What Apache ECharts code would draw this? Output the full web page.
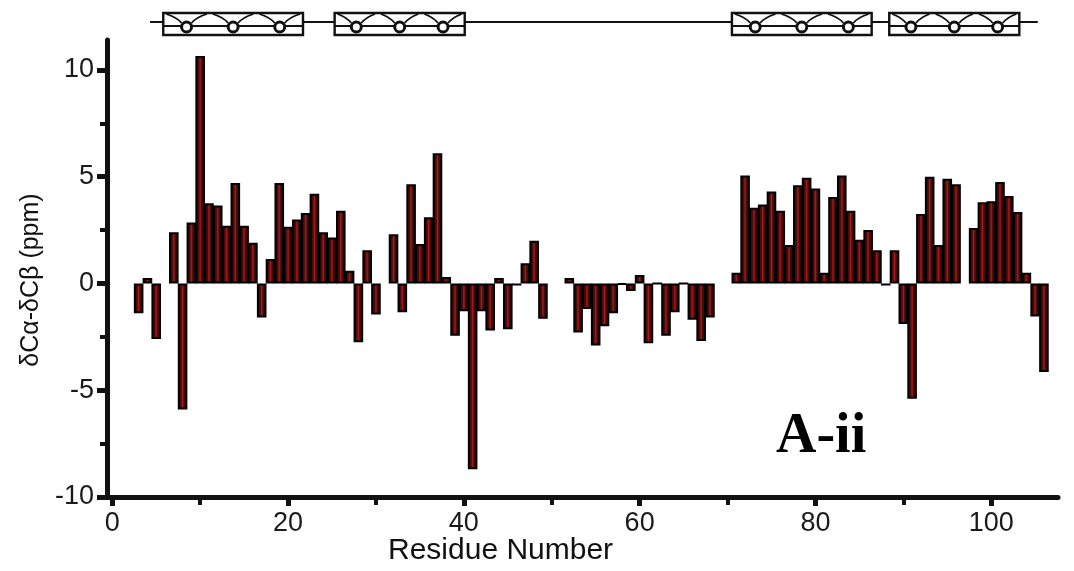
<!DOCTYPE html>
<html>
<head>
<meta charset="utf-8">
<script src="https://cdn.jsdelivr.net/npm/echarts@6/dist/echarts.min.js"></script>
<style>
  html, body { margin: 0; padding: 0; background: #ffffff; }
  #chart { width: 1074px; height: 571px; }
</style>
</head>
<body>
<div id="chart"></div>
<script>
// Secondary chemical shift (δCα − δCβ) per residue; null = no assignment
const residues = [
  3, 4, 5, 6, 7, 8, 9, 10, 11, 12, 13, 14, 15, 16, 17, 18, 19, 20,
  21, 22, 23, 24, 25, 26, 27, 28, 29, 30, 31, 32, 33, 34, 35, 36, 37, 38, 39, 40,
  41, 42, 43, 44, 45, 46, 47, 48, 49, 50, 51, 52, 53, 54, 55, 56, 57, 58, 59, 60,
  61, 62, 63, 64, 65, 66, 67, 68, 69, 70, 71, 72, 73, 74, 75, 76, 77, 78, 79, 80,
  81, 82, 83, 84, 85, 86, 87, 88, 89, 90, 91, 92, 93, 94, 95, 96, 97, 98, 99, 100,
  101, 102, 103, 104, 105, 106
];
const shifts = [
  -1.4, 0.25, -2.6, null, 2.4, -5.9, 2.85, 10.65, 3.75, 3.65, 2.7, 4.7, 2.7, 1.9, -1.6, 1.15, 4.7, 2.65,
  3.0, 3.3, 4.2, 2.4, 2.15, 3.4, 0.6, -2.75, 1.55, -1.45, null, 2.3, -1.35, 4.65, 1.85, 3.1, 6.1, 0.3, -2.45, -1.3,
  -8.7, -1.3, -2.2, 0.25, -2.15, -0.1, 0.95, 2.0, -1.65, null, null, 0.25, -2.3, -1.2, -2.9, -2.0, -1.4, -0.05, -0.35, 0.4,
  -2.8, 0, -2.45, -1.35, 0, -1.7, -2.7, -1.6, null, null, 0.5, 5.05, 3.55, 3.7, 4.3, 3.4, 1.8, 4.6, 4.95, 4.45,
  0.5, 4.05, 5.05, 3.4, 2.05, 2.5, 1.55, -0.1, 1.55, -1.9, -5.4, 3.25, 5.0, 1.8, 4.9, 4.65, null, 2.6, 3.8, 3.85,
  4.75, 4.1, 3.35, 0.5, -1.55, -4.15
];

// Axis ticks and labels
const xMajorTicks = [0, 20, 40, 60, 80, 100];
const xMinorTicks = [10, 30, 50, 70, 90];
const yMajorTicks = [-10, -5, 0, 5, 10];
const yMinorTicks = [-7.5, -2.5, 2.5, 7.5];

// Helical segments (residue ranges) and extent of the structure track
const helices = [[5.8, 21.7], [25.3, 40.1], [70.5, 86.4], [88.4, 103.2]];
const structureSpan = [4.3, 105.3];

const xTitle = 'Residue Number';
const yTitle = 'δCα-δCβ (ppm)';
const panelTag = 'A-ii';

const INK = '#111111';
const SANS = '"Liberation Sans", Arial, sans-serif';

const chart = echarts.init(document.getElementById('chart'), null, { renderer: 'canvas' });

const barData = [];
residues.forEach((r, i) => {
  if (shifts[i] !== null) barData.push([r, shifts[i]]);
});

const X_MIN = -0.6, X_MAX = 107.6, Y_MIN = -10, Y_MAX = 11.4;

function xAxisBase() {
  return {
    type: 'value', min: X_MIN, max: X_MAX, position: 'bottom', offset: 0,
    splitLine: { show: false }
  };
}
function yAxisBase() {
  return {
    type: 'value', min: Y_MIN, max: Y_MAX, position: 'left', offset: 0,
    splitLine: { show: false }
  };
}

const textEls = [
  {
    type: 'text', left: 388, top: 536, z: 20,
    style: { text: xTitle, font: '30px ' + SANS, fill: INK }
  },
  {
    type: 'text', x: 31, y: 280, rotation: Math.PI / 2, z: 20,
    style: { text: yTitle, font: '25px ' + SANS, fill: INK, align: 'center', verticalAlign: 'middle' }
  },
  {
    type: 'text', left: 776, top: 410, z: 20,
    style: { text: panelTag, font: 'bold 56px "Liberation Serif", "Times New Roman", serif', fill: '#000' }
  }
];

chart.setOption({
  animation: false,
  backgroundColor: '#ffffff',
  grid: { left: 107, right: 16, top: 40, bottom: 74, containLabel: false },
  xAxis: [
    Object.assign(xAxisBase(), {
      axisLine: { show: true, onZero: false, lineStyle: { color: INK, width: 5 } },
      axisTick: { show: true, inside: false, length: 9, customValues: xMajorTicks, lineStyle: { color: INK, width: 5 } },
      axisLabel: { show: true, margin: 13, customValues: xMajorTicks, fontFamily: SANS, fontSize: 27, color: '#1a1a1a' }
    }),
    Object.assign(xAxisBase(), {
      axisLine: { show: false, onZero: false },
      axisTick: { show: true, inside: false, length: 8, customValues: xMinorTicks, lineStyle: { color: INK, width: 4 } },
      axisLabel: { show: false }
    })
  ],
  yAxis: [
    Object.assign(yAxisBase(), {
      axisLine: { show: true, onZero: false, lineStyle: { color: INK, width: 5 } },
      axisTick: { show: true, inside: false, length: 10, customValues: yMajorTicks, lineStyle: { color: INK, width: 5 } },
      axisLabel: { show: true, margin: 13, customValues: yMajorTicks, fontFamily: SANS, fontSize: 27, color: '#1a1a1a' }
    }),
    Object.assign(yAxisBase(), {
      axisLine: { show: false, onZero: false },
      axisTick: { show: true, inside: false, length: 7, customValues: yMinorTicks, lineStyle: { color: INK, width: 4 } },
      axisLabel: { show: false }
    })
  ],
  series: [{
    type: 'bar',
    xAxisIndex: 0,
    yAxisIndex: 0,
    data: barData,
    barWidth: 9.6,
    itemStyle: {
      color: new echarts.graphic.LinearGradient(0, 0, 1, 0, [
        { offset: 0, color: '#2c0505' },
        { offset: 0.36, color: '#4c0b0b' },
        { offset: 0.5, color: '#a81c1c' },
        { offset: 0.64, color: '#4c0b0b' },
        { offset: 1, color: '#2c0505' }
      ]),
      borderColor: '#000000',
      borderWidth: 2
    },
    emphasis: { disabled: true }
  }],
  graphic: textEls
});

// Secondary-structure track above the plot: line with helix boxes
function structureTrack() {
  const px = r => chart.convertToPixel({ xAxisIndex: 0 }, r);
  const els = [];
  const yLine = 22, top = 13, bottom = 35, cy = 26;
  els.push({
    type: 'line', z: 10,
    shape: { x1: px(structureSpan[0]), y1: yLine, x2: px(structureSpan[1]), y2: yLine },
    style: { stroke: INK, lineWidth: 2 }
  });
  helices.forEach(([a, b]) => {
    const x0 = px(a), x1 = px(b), w = (x1 - x0) / 3;
    els.push({
      type: 'rect', z: 11,
      shape: { x: x0, y: top, width: x1 - x0, height: bottom - top },
      style: { fill: '#ffffff', stroke: INK, lineWidth: 2.4 }
    });
    els.push({
      type: 'line', z: 12,
      shape: { x1: x0, y1: cy, x2: x1, y2: cy },
      style: { stroke: INK, lineWidth: 1.8 }
    });
    for (let i = 0; i < 3; i++) {
      const xa = x0 + i * w, xb = xa + w, cx = xa + w / 2;
      els.push({
        type: 'bezierCurve', z: 12,
        shape: { x1: xa + 3, y1: top + 1, x2: cx - 5, y2: cy - 3, cpx1: cx - 10, cpy1: top + 4 },
        style: { stroke: INK, lineWidth: 1.8, fill: null }
      });
      els.push({
        type: 'bezierCurve', z: 12,
        shape: { x1: cx + 5, y1: cy - 3, x2: xb - 3, y2: top + 1, cpx1: cx + 10, cpy1: top + 4 },
        style: { stroke: INK, lineWidth: 1.8, fill: null }
      });
      els.push({
        type: 'circle', z: 13,
        shape: { cx: cx, cy: cy + 1, r: 5 },
        style: { fill: '#ffffff', stroke: INK, lineWidth: 3 }
      });
    }
  });
  return els;
}

chart.setOption({ graphic: textEls.concat(structureTrack()) });
</script>
</body>
</html>
